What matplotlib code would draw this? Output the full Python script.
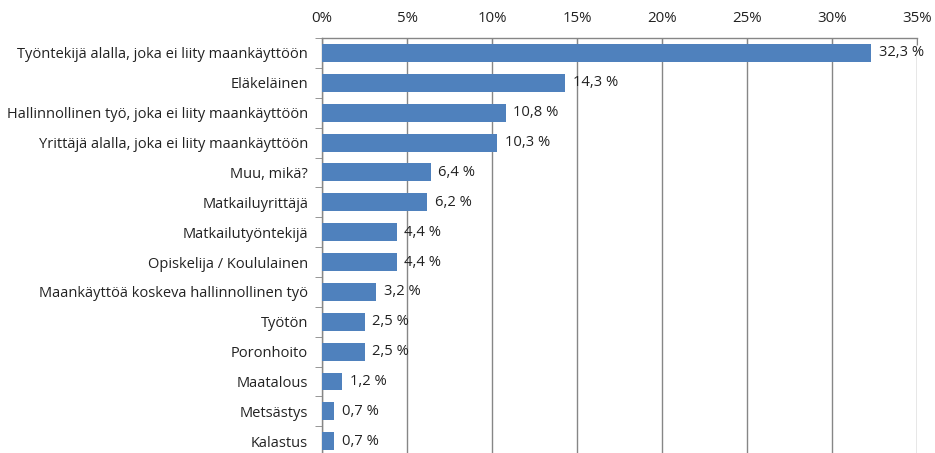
import matplotlib.pyplot as plt
from matplotlib.ticker import FixedLocator

categories = [
    "Työntekijä alalla, joka ei liity maankäyttöön",
    "Eläkeläinen",
    "Hallinnollinen työ, joka ei liity maankäyttöön",
    "Yrittäjä alalla, joka ei liity maankäyttöön",
    "Muu, mikä?",
    "Matkailuyrittäjä",
    "Matkailutyöntekijä",
    "Opiskelija / Koululainen",
    "Maankäyttöä koskeva hallinnollinen työ",
    "Työtön",
    "Poronhoito",
    "Maatalous",
    "Metsästys",
    "Kalastus",
]
values = [32.3, 14.3, 10.8, 10.3, 6.4, 6.2, 4.4, 4.4, 3.2, 2.5, 2.5, 1.2, 0.7, 0.7]
xticks = [0, 5, 10, 15, 20, 25, 30, 35]

plt.rcParams['font.family'] = ['Open Sans', 'DejaVu Sans']

fig = plt.figure(figsize=(9.35, 4.53), dpi=100)
ax = fig.add_axes([0.3444, -0.007, 0.6364, 0.923])

ypos = list(range(len(categories)))
ax.barh(ypos, values, height=0.6, color='#4F81BD', zorder=3)
for y, v in zip(ypos, values):
    ax.text(v + 0.45, y, f"{v:.1f} %".replace('.', ','), va='center', ha='left',
            fontsize=10.6, color='#222222', zorder=4)

ax.set_xlim(0, 35)
ax.set_ylim(len(categories) - 0.5, -0.5)
ax.xaxis.tick_top()
ax.set_xticks(xticks)
ax.set_xticklabels([f"{t}%" for t in xticks])
ax.set_yticks(ypos)
ax.set_yticklabels(categories)
ax.yaxis.set_minor_locator(FixedLocator([i + 0.5 for i in range(-1, len(categories))]))
ax.tick_params(axis='y', which='major', length=0, pad=10, labelsize=10.5, labelcolor='#222222')
ax.tick_params(axis='y', which='minor', length=5, color='#868686', direction='out')
ax.tick_params(axis='x', which='major', length=5, color='#868686', direction='in',
               labelsize=10.8, labelcolor='#222222', pad=9)
ax.grid(axis='x', color='#868686', linewidth=1, zorder=0)

for side in ['right', 'bottom']:
    ax.spines[side].set_visible(False)
for side in ['top', 'left']:
    ax.spines[side].set_color('#868686')
    ax.spines[side].set_linewidth(1)

fig.savefig('out.png', dpi=100)
